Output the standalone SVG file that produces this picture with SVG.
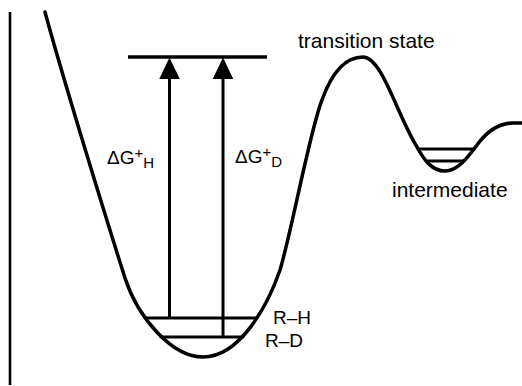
<svg xmlns="http://www.w3.org/2000/svg" width="522" height="386" viewBox="0 0 522 386">
<style>
.ln{fill:none;stroke:#000;stroke-linecap:round;stroke-linejoin:round}
.t{font-family:"Liberation Sans",Arial,Helvetica,sans-serif;fill:#000}
</style>
<defs>
<marker id="ah" markerUnits="userSpaceOnUse" markerWidth="22" markerHeight="22" viewBox="0 0 21 20" refX="9" refY="10" orient="auto">
<path d="M0,0 L21,10 L0,20 Z" fill="#000"/>
</marker>
</defs>
<rect width="522" height="386" fill="#fff"/>
<g id="axis">
<line class="ln" x1="10" y1="12" x2="10" y2="385" stroke-width="2.6" style="stroke-linecap:butt"/>
</g>
<g id="energy-curve">
<path class="ln" stroke-width="3.5" d="M45,12 C62,75 105,215 125,278 C138,318 172,357 203,357 C240,357 268,305 280,270 C292,230 310,130 322,100 C332,72 345,57 363,57 C382,57 397,115 417,147 C424,160 432,171 445,171 C458,171 468,157 477,145 C488,130 500,123 513,123 L522,123"/>
</g>
<g id="reactant-levels">
<line class="ln" x1="145" y1="318" x2="257" y2="318" stroke-width="3"/>
<line class="ln" x1="161" y1="337" x2="243" y2="337" stroke-width="3"/>
</g>
<g id="intermediate-levels">
<line class="ln" x1="418" y1="149" x2="474" y2="149" stroke-width="3"/>
<line class="ln" x1="426" y1="161" x2="464" y2="161" stroke-width="3"/>
</g>
<g id="ts-level">
<line class="ln" x1="128" y1="57" x2="267" y2="57" stroke-width="3.4" style="stroke-linecap:butt"/>
</g>
<g id="connectors">
<line x1="169.5" y1="318" x2="169.5" y2="70" stroke="#000" stroke-width="3" marker-end="url(#ah)"/>
<line x1="223" y1="337" x2="223" y2="70" stroke="#000" stroke-width="3" marker-end="url(#ah)"/>
</g>
<g id="labels">
<text class="t" x="298" y="48" font-size="21">transition state</text>
<text class="t" x="392" y="197" font-size="21">intermediate</text>
<text class="t" x="107" y="164" font-size="19">ΔG<tspan font-size="15" dy="-6">+</tspan><tspan font-size="15" dy="10">H</tspan></text>
<text class="t" x="235" y="163" font-size="19">ΔG<tspan font-size="15" dy="-6">+</tspan><tspan font-size="15" dy="10">D</tspan></text>
<text class="t" x="273" y="324" font-size="19">R–H</text>
<text class="t" x="265" y="347" font-size="19">R–D</text>
</g>
</svg>
